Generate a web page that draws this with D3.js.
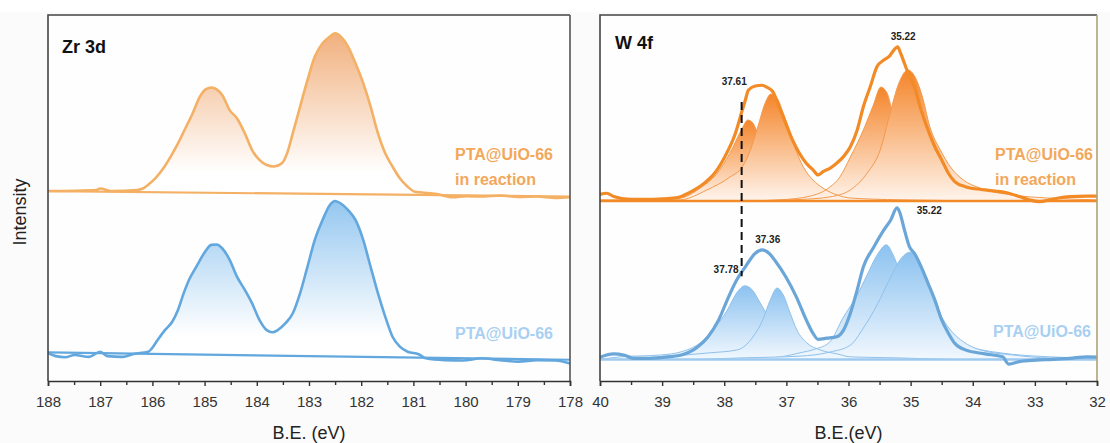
<!DOCTYPE html>
<html>
<head>
<meta charset="utf-8">
<script src="https://cdn.jsdelivr.net/npm/d3@7"></script>
<style>
  body { margin: 0; background: #fbfbfb; }
  svg { display: block; font-family: Arial, "Liberation Sans", sans-serif; }
</style>
</head>
<body>
<svg id="chart" width="1110" height="443"></svg>
<script>
// ---- data: [B.E. (eV), intensity (a.u.)] ----

// Zr 3d, PTA@UiO-66 in reaction
var zrReact = [[188.00,51.9],[187.07,52.2],[187.00,52.6],[186.79,51.9],[186.29,52.2],[186.18,52.6],[186.08,53.6],
  [185.94,55.4],[185.79,58.1],[185.65,61.3],[185.51,64.9],[185.37,69.0],[185.23,73.1],[185.09,77.7],[184.98,79.7],
  [184.87,80.2],[184.77,79.7],[184.66,78.1],[184.52,74.0],[184.38,71.8],[184.23,67.7],[184.09,63.1],[183.95,60.4],
  [183.81,59.0],[183.67,58.6],[183.52,59.5],[183.42,62.2],[183.31,67.7],[183.17,75.0],[183.03,82.2],[182.89,88.6],
  [182.74,92.3],[182.60,94.1],[182.50,95.0],[182.39,94.1],[182.25,91.3],[182.11,86.8],[181.96,81.3],[181.82,75.0],
  [181.68,67.7],[181.54,62.2],[181.40,58.6],[181.26,55.4],[181.11,53.1],[180.97,51.7],[180.83,51.5],[180.55,51.1],
  [180.26,50.2],[179.98,50.5],[179.70,50.4],[179.34,50.7],[178.99,50.3],[178.63,50.4],[178.28,50.0],[178.00,50.2]];
var zrReactBase = [[188.00,51.9],[178.00,50.4]];

// Zr 3d, PTA@UiO-66
var zrFresh = [[188.00,7.6],[187.85,6.8],[187.67,6.5],[187.49,7.1],[187.21,6.6],[187.00,8.0],[186.86,6.8],
  [186.57,6.6],[186.36,7.4],[186.08,8.0],[186.01,8.9],[185.90,11.2],[185.76,13.9],[185.62,16.2],[185.51,19.4],
  [185.40,24.0],[185.30,27.6],[185.16,31.2],[185.01,34.9],[184.87,37.2],[184.77,37.3],[184.66,36.2],[184.52,33.1],
  [184.38,28.5],[184.23,24.9],[184.09,21.2],[183.95,16.7],[183.81,13.9],[183.70,13.3],[183.60,13.9],[183.45,15.8],
  [183.31,18.5],[183.17,24.0],[183.03,31.2],[182.89,38.5],[182.74,44.0],[182.60,48.1],[182.50,49.2],[182.39,48.5],
  [182.25,46.7],[182.11,44.0],[181.96,38.5],[181.82,31.2],[181.68,24.0],[181.54,17.6],[181.40,12.1],[181.26,9.4],
  [181.11,8.0],[180.90,7.3],[180.76,6.2],[180.40,5.7],[180.05,5.6],[179.70,6.2],[179.34,5.7],[178.99,5.3],
  [178.63,5.7],[178.28,5.6],[178.00,4.8]];
var zrFreshBase = [[188.00,7.8],[178.00,5.8]];

// W 4f, PTA@UiO-66 in reaction: envelope and fitted components
var wReact = [[40.00,51.0],[39.89,51.3],[39.78,50.4],[39.51,49.6],[39.24,49.6],[38.97,49.8],[38.75,50.1],
  [38.64,50.8],[38.48,52.2],[38.31,54.2],[38.15,56.9],[37.99,61.3],[37.82,67.7],[37.71,74.0],[37.66,76.8],
  [37.61,79.5],[37.50,80.6],[37.39,80.8],[37.31,80.2],[37.22,79.1],[37.12,75.0],[37.01,70.4],[36.90,65.8],
  [36.79,62.2],[36.68,59.5],[36.57,57.7],[36.49,56.3],[36.41,57.2],[36.30,58.1],[36.19,59.5],[36.08,61.3],
  [35.97,64.0],[35.86,68.6],[35.76,75.0],[35.65,80.4],[35.54,85.9],[35.43,87.7],[35.35,88.6],[35.27,90.4],
  [35.21,91.3],[35.16,89.5],[35.10,86.8],[35.05,84.5],[34.94,80.4],[34.83,74.0],[34.72,68.6],[34.61,64.0],
  [34.50,60.4],[34.39,56.7],[34.29,54.5],[34.12,53.1],[33.80,52.2],[33.47,51.5],[33.25,50.4],[33.09,49.5],
  [32.93,49.0],[32.71,49.7],[32.44,50.4],[32.16,50.5],[32.00,50.5]];
var wReactBase = [[40.00,49.2],[32.00,49.2]];
var wReactA = [[40.00,49.5],[39.36,49.5],[38.71,50.0],[38.39,52.7],[38.07,57.7],[37.86,63.9],[37.71,69.1],
  [37.62,71.3],[37.54,70.5],[37.47,68.0],[37.34,63.1],[37.10,56.3],[36.78,51.6],[36.30,49.7],[35.50,49.3]];
var wReactB = [[40.00,49.2],[38.71,49.5],[38.28,52.2],[37.91,55.7],[37.71,58.5],[37.58,63.1],[37.46,69.4],
  [37.34,76.0],[37.25,78.4],[37.15,77.3],[37.05,73.2],[36.94,67.8],[36.83,62.3],[36.70,57.7],[36.57,54.9],
  [36.41,52.7],[36.18,50.8],[35.97,50.0],[35.17,49.5],[33.56,49.2]];
var wReactC = [[37.60,49.2],[37.10,49.5],[36.62,50.5],[36.30,53.0],[36.14,55.7],[35.97,61.2],[35.76,68.6],
  [35.60,75.4],[35.48,80.3],[35.38,78.7],[35.30,74.0],[35.17,67.2],[35.01,60.4],[34.77,54.9],[34.36,51.6],
  [33.72,50.0],[33.00,49.2]];
var wReactD = [[38.20,49.2],[37.42,49.3],[36.78,49.6],[36.30,50.3],[35.97,52.2],[35.70,56.8],[35.49,63.1],
  [35.33,73.2],[35.20,80.9],[35.04,85.0],[34.93,83.1],[34.81,77.6],[34.69,69.4],[34.52,63.1],[34.36,58.5],
  [34.15,54.9],[33.88,52.7],[33.35,50.8],[32.80,50.0],[32.00,49.5]];

// W 4f, PTA@UiO-66: envelope and fitted components
var wFresh = [[40.00,6.5],[39.78,7.4],[39.62,7.1],[39.46,6.2],[39.24,6.2],[38.97,6.5],[38.69,7.1],[38.42,9.4],
  [38.26,12.1],[38.09,16.7],[37.93,23.0],[37.80,27.6],[37.66,31.2],[37.50,34.9],[37.39,35.8],[37.28,34.9],
  [37.17,32.6],[37.01,28.5],[36.84,23.0],[36.68,16.7],[36.57,13.0],[36.49,11.4],[36.35,11.7],[36.19,12.1],
  [36.08,13.9],[35.97,18.5],[35.86,24.9],[35.76,31.2],[35.59,36.7],[35.43,41.3],[35.32,44.0],[35.22,47.3],
  [35.18,46.3],[35.10,41.3],[35.02,36.7],[34.94,34.9],[34.83,31.2],[34.72,26.7],[34.61,22.1],[34.50,16.7],
  [34.39,13.0],[34.29,10.3],[34.12,8.5],[33.80,7.4],[33.52,6.6],[33.42,4.6],[33.25,5.3],[32.98,5.7],
  [32.71,5.9],[32.44,6.2],[32.16,6.6],[32.00,6.5]];
var wFreshBase = [[40.00,5.9],[32.00,5.9]];
var wFreshE = [[40.00,5.9],[39.68,6.6],[39.03,7.1],[38.71,7.9],[38.39,10.4],[38.18,13.9],[37.95,19.4],
  [37.79,24.3],[37.67,26.0],[37.55,24.9],[37.42,21.3],[37.31,18.0],[37.21,14.8],[37.05,11.2],[36.78,8.5],
  [36.34,7.1],[35.65,6.6],[35.00,5.9]];
var wFreshF = [[39.60,5.9],[39.03,6.6],[38.23,7.7],[37.79,8.5],[37.54,12.0],[37.38,16.7],[37.26,22.1],
  [37.15,25.4],[37.05,23.5],[36.94,18.6],[36.83,13.9],[36.67,10.4],[36.46,8.5],[36.18,7.4],[35.97,6.6],
  [35.17,6.3],[34.40,5.9]];
var wFreshG = [[37.80,5.9],[37.10,6.6],[36.78,7.7],[36.54,8.7],[36.30,10.7],[36.09,17.2],[35.86,23.5],
  [35.70,29.0],[35.54,34.4],[35.39,37.2],[35.28,34.4],[35.20,31.1],[35.01,24.9],[34.77,18.0],[34.44,12.6],
  [34.04,9.3],[33.56,7.7],[32.75,6.6],[32.00,6.2]];
var wFreshH = [[38.40,5.9],[37.75,6.3],[36.78,6.8],[36.30,7.9],[35.97,9.8],[35.76,14.5],[35.54,20.8],
  [35.33,28.1],[35.17,33.1],[35.01,35.2],[34.90,33.9],[34.77,29.0],[34.64,22.7],[34.49,17.2],[34.33,13.4],
  [34.15,10.7],[33.88,8.5],[33.35,7.1],[32.75,6.3],[32.00,6.3]];

// peak position annotations [eV, intensity, text]
var peakLabels = [[37.84,81.0,"37.61"],[35.12,93.3,"35.22"],[34.70,45.6,"35.22"],[37.30,37.6,"37.36"],[37.97,29.4,"37.78"]];
var dashLine = [[37.72,76.2],[37.72,28.6]];

var zrTicks = d3.range(178, 189, 1);
var zrMinor = d3.range(178.5, 188, 1);
var wTicks = d3.range(32, 41, 1);
var wMinor = d3.range(32.5, 40, 1);

// ---- layout ----
var svg = d3.select("#chart");
var y = d3.scaleLinear().domain([0, 100]).range([381, 15]);
var xZr = d3.scaleLinear().domain([188, 178]).range([48, 570]);
var xW = d3.scaleLinear().domain([40, 32]).range([600, 1097]);

var defs = svg.append("defs");
function grad(id, top, bottom, stop) {
    var g = defs.append("linearGradient").attr("id", id)
        .attr("x1", 0).attr("y1", 0).attr("x2", 0).attr("y2", 1);
    g.append("stop").attr("offset", "0%").attr("stop-color", top);
    g.append("stop").attr("offset", stop).attr("stop-color", bottom);
}
grad("gZrO", "#f1b07e", "#ffffff", "85%");
grad("gZrB", "#95c7f0", "#ffffff", "85%");
grad("gWO", "#f4852a", "#fff4ec", "100%");
grad("gWB", "#8cc2f0", "#f2f8fe", "100%");

// white page strip at the top like the reference
svg.append("rect").attr("x", 0).attr("y", 0).attr("width", 1110).attr("height", 12).attr("fill", "#ffffff");

function panel(x) {
    var r = x.range();
    svg.append("rect").attr("x", r[0]).attr("y", 15).attr("width", r[1] - r[0]).attr("height", 366)
        .attr("fill", "#fefefe");
}
panel(xZr);
panel(xW);

function lineGen(x) {
    return d3.line().x(function (d) { return x(d[0]); }).y(function (d) { return y(d[1]); })
        .curve(d3.curveMonotoneX);
}
function areaGen(x, base) {
    return d3.area().x(function (d) { return x(d[0]); }).y0(y(base)).y1(function (d) { return y(d[1]); })
        .curve(d3.curveMonotoneX);
}

var gZr = svg.append("g");
var gW = svg.append("g");

// ---- Zr 3d ----
function zrCurve(data, base, fill, stroke) {
    var baseAt = d3.scaleLinear().domain([base[0][0], base[1][0]]).range([base[0][1], base[1][1]]);
    gZr.append("path").datum(data)
        .attr("d", d3.area().x(function (d) { return xZr(d[0]); })
            .y0(function (d) { return y(baseAt(d[0])); })
            .y1(function (d) { return y(Math.max(d[1], baseAt(d[0]))); })
            .curve(d3.curveMonotoneX))
        .attr("fill", "url(#" + fill + ")");
    gZr.append("path").datum(base).attr("d", lineGen(xZr))
        .attr("fill", "none").attr("stroke", stroke).attr("stroke-width", 2.2);
    gZr.append("path").datum(data).attr("d", lineGen(xZr))
        .attr("fill", "none").attr("stroke", stroke).attr("stroke-width", 2.6).attr("stroke-linejoin", "round");
}
zrCurve(zrReact, zrReactBase, "gZrO", "#f4b064");
zrCurve(zrFresh, zrFreshBase, "gZrB", "#62a7de");

// ---- W 4f ----
function comp(data, base, fill, stroke, what) {
    if (what === "fill") {
        gW.append("path").datum(data).attr("d", areaGen(xW, base))
            .attr("fill", "url(#" + fill + ")");
    } else {
        gW.append("path").datum(data).attr("d", lineGen(xW))
            .attr("fill", "none").attr("stroke", stroke).attr("stroke-width", 1);
    }
}
function wSet(env, base, c1, c2, c3, c4, fill, cStroke, envStroke, baseStroke) {
    var b = base[0][1];
    // later fills hide the hidden side of the overlapped component
    comp(c1, b, fill, cStroke, "fill");
    comp(c1, b, fill, cStroke, "line");
    comp(c2, b, fill, cStroke, "fill");
    comp(c3, b, fill, cStroke, "fill");
    comp(c3, b, fill, cStroke, "line");
    comp(c4, b, fill, cStroke, "fill");
    comp(c2, b, fill, cStroke, "line");
    comp(c4, b, fill, cStroke, "line");
    gW.append("path").datum(base).attr("d", lineGen(xW))
        .attr("fill", "none").attr("stroke", baseStroke).attr("stroke-width", 2.5);
    gW.append("path").datum(env).attr("d", lineGen(xW))
        .attr("fill", "none").attr("stroke", envStroke).attr("stroke-width", 3.2).attr("stroke-linejoin", "round");
}
wSet(wReact, wReactBase, wReactA, wReactB, wReactC, wReactD, "gWO", "#f39a4c", "#f28a26", "#f28a26");
wSet(wFresh, wFreshBase, wFreshE, wFreshF, wFreshG, wFreshH, "gWB", "#8fc1ec", "#6aa6d8", "#9fcaf0");

gW.append("path").datum(dashLine).attr("d", lineGen(xW))
    .attr("fill", "none").attr("stroke", "#111").attr("stroke-width", 2).attr("stroke-dasharray", "8,5");

gW.selectAll(".peak").data(peakLabels).enter().append("text")
    .attr("class", "peak")
    .attr("x", function (d) { return xW(d[0]); })
    .attr("y", function (d) { return y(d[1]); })
    .attr("text-anchor", "middle")
    .attr("font-size", 10).attr("font-weight", "bold").attr("fill", "#222")
    .text(function (d) { return d[2]; });

// ---- series labels ----
function label(x, yy, txt, color) {
    svg.append("text").attr("x", x).attr("y", yy).attr("font-size", 16).attr("font-weight", "bold")
        .attr("fill", color).text(txt);
}
label(455, 160, "PTA@UiO-66", "#f3a75a");
label(455, 185, "in reaction", "#f3a75a");
label(455, 339, "PTA@UiO-66", "#a9d0f2");
label(995, 160, "PTA@UiO-66", "#f3a75a");
label(995, 185, "in reaction", "#f3a75a");
label(993, 337, "PTA@UiO-66", "#a9d0f2");

svg.append("text").attr("x", 62).attr("y", 53).attr("font-size", 18).attr("font-weight", "bold")
    .attr("fill", "#111").text("Zr 3d");
svg.append("text").attr("x", 615).attr("y", 49).attr("font-size", 18).attr("font-weight", "bold")
    .attr("fill", "#111").text("W 4f");

// ---- frames and axes ----
function frame(x, rightColor) {
    var r = x.range();
    svg.append("path").attr("d", "M" + r[1] + ",15H" + r[0] + "V381")
        .attr("fill", "none").attr("stroke", "#444").attr("stroke-width", 1.6);
    svg.append("line").attr("x1", r[1]).attr("x2", r[1]).attr("y1", 15).attr("y2", 381)
        .attr("stroke", rightColor).attr("stroke-width", 1.6);
}
frame(xZr, "#555");
frame(xW, "#b0a276");

function axis(x, ticks, minor, title) {
    var g = svg.append("g").attr("transform", "translate(0,381)");
    g.call(d3.axisBottom(x).tickValues(ticks).tickSize(5).tickPadding(10).tickFormat(d3.format("d")));
    g.select(".domain").attr("stroke", "#333").attr("stroke-width", 1.6);
    g.selectAll(".tick line").attr("stroke", "#333").attr("stroke-width", 1.4);
    g.selectAll(".tick text").attr("font-size", 15).attr("fill", "#333")
        .attr("font-family", "Arial, 'Liberation Sans', sans-serif");
    var m = svg.append("g").attr("transform", "translate(0,381)");
    m.call(d3.axisBottom(x).tickValues(minor).tickSize(4).tickFormat(""));
    m.select(".domain").remove();
    m.selectAll(".tick line").attr("stroke", "#333").attr("stroke-width", 1.4);
    var r = x.range();
    svg.append("text").attr("x", (r[0] + r[1]) / 2).attr("y", 439).attr("text-anchor", "middle")
        .attr("font-size", 18).attr("fill", "#222").text(title);
}
axis(xZr, zrTicks, zrMinor, "B.E. (eV)");
axis(xW, wTicks, wMinor, "B.E.(eV)");

svg.append("text").attr("transform", "translate(26,212) rotate(-90)").attr("text-anchor", "middle")
    .attr("font-size", 18).attr("fill", "#222").text("Intensity");
</script>
</body>
</html>
